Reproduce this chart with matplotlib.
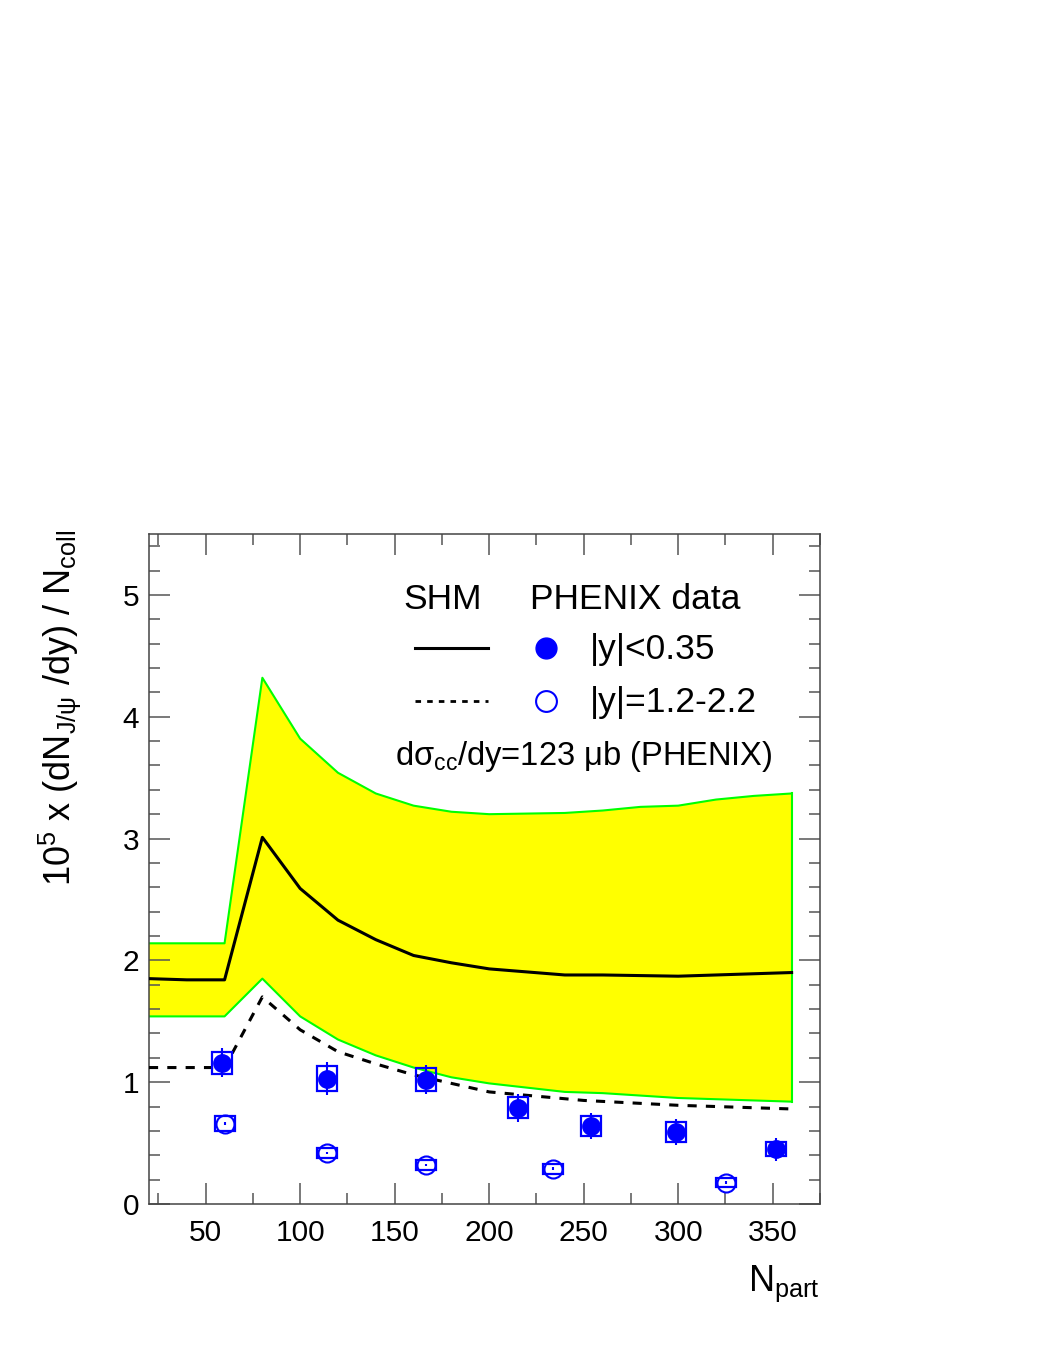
import matplotlib
matplotlib.use("Agg")
import matplotlib.pyplot as plt
from matplotlib.patches import Rectangle
from matplotlib.ticker import MultipleLocator

plt.rcParams['font.family'] = ['Liberation Sans', 'DejaVu Sans']
plt.rcParams['mathtext.fontset'] = 'custom'
plt.rcParams['mathtext.rm'] = 'Liberation Sans'
plt.rcParams['mathtext.it'] = 'Liberation Sans:italic'
plt.rcParams['mathtext.sf'] = 'Liberation Sans'

# SHM model, |y|<0.35 (solid line and band)
shm_x = [20, 40, 60, 80, 100, 120, 140, 160, 180, 200, 240, 260, 300, 360]
shm_y = [1.85, 1.84, 1.84, 3.01, 2.59, 2.33, 2.17, 2.04, 1.98, 1.93, 1.88, 1.88, 1.87, 1.90]
band_x = [20, 60, 80, 100, 120, 140, 160, 180, 200, 240, 260, 280, 300, 320, 340, 360]
band_hi = [2.14, 2.14, 4.32, 3.82, 3.54, 3.37, 3.27, 3.22, 3.20, 3.21, 3.23, 3.26, 3.27, 3.32, 3.35, 3.37]
band_lo = [1.54, 1.54, 1.85, 1.54, 1.35, 1.22, 1.12, 1.04, 0.99, 0.92, 0.91, 0.89, 0.87, 0.86, 0.85, 0.84]

# SHM model, forward rapidity (dashed)
fwd_model_x = [20, 60, 80, 100, 120, 140, 160, 200, 250, 300, 360]
fwd_model_y = [1.12, 1.12, 1.70, 1.43, 1.25, 1.15, 1.06, 0.92, 0.85, 0.81, 0.78]

# PHENIX |y|<0.35
mid_x = [58.5, 114, 166.5, 215, 254, 299, 351.5]
mid_y = [1.16, 1.03, 1.02, 0.79, 0.64, 0.59, 0.45]
mid_stat = [0.12, 0.135, 0.12, 0.115, 0.105, 0.105, 0.095]
mid_sys = [0.09, 0.10, 0.095, 0.085, 0.08, 0.08, 0.06]

# PHENIX |y|=1.2-2.2
fwd_x = [60, 114, 166.5, 234, 325.5]
fwd_y = [0.66, 0.42, 0.32, 0.29, 0.175]
fwd_stat = [0.01, 0.01, 0.01, 0.01, 0.01]
fwd_sys = [0.065, 0.04, 0.04, 0.04, 0.037]

box_dx = 5.3
blue = '#0000ff'

fig = plt.figure(figsize=(10.46, 13.54), dpi=100)
ax = fig.add_axes([0.1424, 0.1108, 0.6415, 0.4948])

ax.fill_between(band_x, band_lo, band_hi, facecolor='#ffff00', edgecolor='none', zorder=1)
ax.plot(band_x, band_hi, color='#00ff00', lw=1.5, zorder=2)
ax.plot(band_x, band_lo, color='#00ff00', lw=1.5, zorder=2)
ax.plot([band_x[-1], band_x[-1]], [band_lo[-1], band_hi[-1]], color='#00ff00', lw=1.5, zorder=2)

ax.plot(shm_x, shm_y, color='black', lw=2.2, zorder=3)
ax.plot(fwd_model_x, fwd_model_y, color='black', lw=2.2, ls=(0, (3, 3)), zorder=3)

for x, y, s in zip(mid_x, mid_y, mid_sys):
    ax.add_patch(Rectangle((x - box_dx, y - s), 2 * box_dx, 2 * s, fill=False,
                           edgecolor=blue, lw=1.6, zorder=4))
for x, y, s in zip(fwd_x, fwd_y, fwd_sys):
    ax.add_patch(Rectangle((x - box_dx, y - s), 2 * box_dx, 2 * s, fill=False,
                           edgecolor=blue, lw=1.6, zorder=4))

ax.errorbar(mid_x, mid_y, yerr=mid_stat, fmt='o', color=blue, ms=12.5,
            elinewidth=1.5, capsize=0, zorder=5)
ax.errorbar(fwd_x, fwd_y, yerr=fwd_stat, fmt='o', mfc='none', mec=blue, color=blue,
            ms=13, mew=1.5, elinewidth=1.5, capsize=0, zorder=5)

ax.set_xlim(20, 375)
ax.set_ylim(0, 5.5)
ax.xaxis.set_major_locator(MultipleLocator(50))
ax.xaxis.set_minor_locator(MultipleLocator(25))
ax.yaxis.set_major_locator(MultipleLocator(1))
ax.yaxis.set_minor_locator(MultipleLocator(0.2))
ax.tick_params(which='both', direction='in', top=True, right=True, color='#555555',
               labelsize=21.5, width=1.1)
ax.tick_params(which='major', length=15)
ax.tick_params(which='minor', length=8)
ax.tick_params(axis='x', pad=11)
ax.tick_params(axis='y', pad=7)
for sp in ax.spines.values():
    sp.set_color('#444444')
    sp.set_linewidth(1.1)

fig.text(60 / 1046, 1 - 530 / 1354,
         r'$10^{5}$ x (dN$_{\mathrm{J/ψ}}$ /dy) / N$_{\mathrm{coll}}$',
         rotation=90, ha='center', va='top', fontsize=26)
fig.text(820 / 1046, 1 - 1284 / 1354, r'N$_{\mathrm{part}}$', ha='right', va='center', fontsize=26)

# legend
ax.text(0.437, 0.903, 'SHM', transform=ax.transAxes, ha='center', va='center', fontsize=25.5)
ax.text(0.568, 0.903, 'PHENIX data', transform=ax.transAxes, ha='left', va='center', fontsize=25.5)
ax.plot([0.396, 0.505], [0.830, 0.830], transform=ax.transAxes, color='black', lw=2.2)
ax.plot([0.396, 0.505], [0.751, 0.751], transform=ax.transAxes, color='black', lw=2.0,
        ls=(0, (2, 2.2)))
ax.plot([0.592], [0.830], 'o', transform=ax.transAxes, color=blue, ms=15)
ax.plot([0.592], [0.751], 'o', transform=ax.transAxes, mfc='none', mec=blue, mew=1.5, ms=15)
ax.text(0.657, 0.828, '|y|<0.35', transform=ax.transAxes, ha='left', va='center', fontsize=25.5)
ax.text(0.657, 0.749, '|y|=1.2-2.2', transform=ax.transAxes, ha='left', va='center', fontsize=25.5)
ax.text(0.367, 0.668, r'dσ$_{\mathrm{cc}}$/dy=123 μb (PHENIX)', transform=ax.transAxes,
        ha='left', va='center', fontsize=23.5)

fig.savefig('out.png', dpi=100)
